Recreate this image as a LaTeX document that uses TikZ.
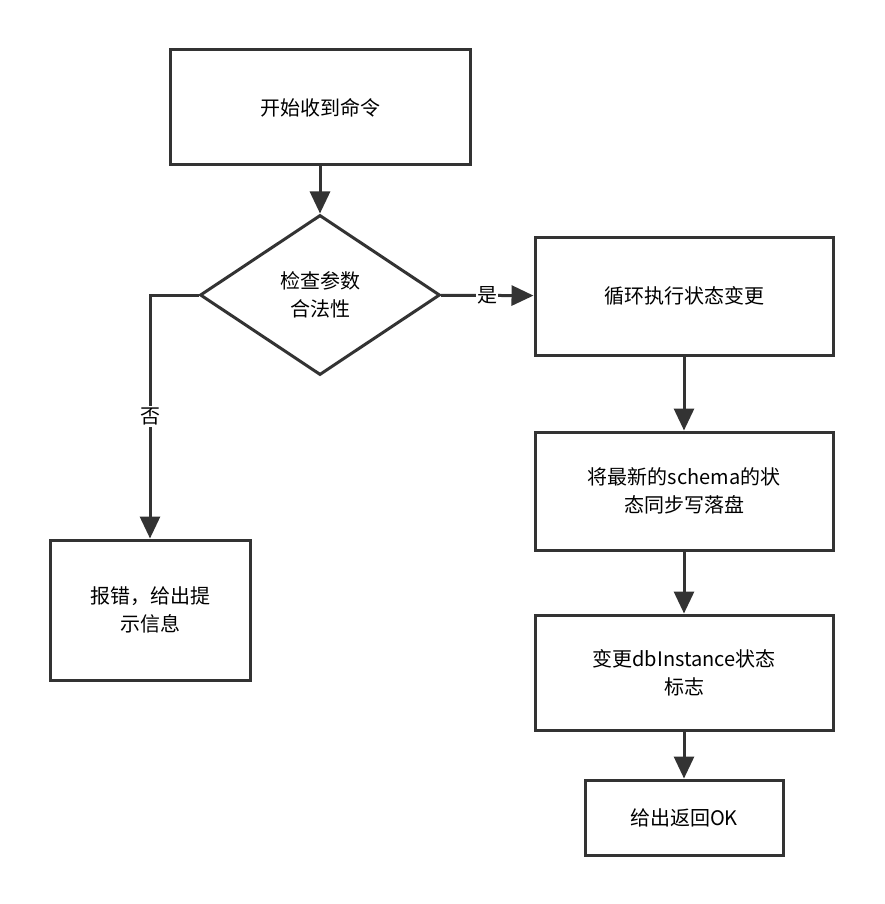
\documentclass[tikz,border=0pt]{standalone}
\usepackage{fontspec}
\setmainfont{Noto Sans CJK SC}
\usetikzlibrary{shapes.geometric,arrows.meta}
\tikzset{
  box/.style={draw=black!80,line width=3pt,minimum width=#1,align=center,font=\fontsize{20}{28}\selectfont},
  link/.style={draw=black!80,line width=3pt,-{Triangle[length=22pt,width=20pt]}},
}
\begin{document}
\begin{tikzpicture}[x=1pt,y=-1pt]
      \useasboundingbox (0,0) rectangle (884,904);
      \node[box=300pt,minimum height=115pt] (start) at (320,107.5) {开始收到命令};
      \node[box=1pt,diamond,shape aspect=1.5,minimum width=240pt,minimum height=160pt,inner sep=0pt] (check) at (320,295) {};
      \node[align=center,font=\fontsize{20}{28}\selectfont] (checktext) at (320,295) {检查参数\\合法性};
      \node[box=298pt,minimum height=118pt] (loop) at (684,296) {循环执行状态变更};
      \node[box=298pt,minimum height=118pt] (write) at (684,491) {将最新的schema的状\\态同步写落盘};
      \node[box=298pt,minimum height=115pt] (flag) at (684,672.5) {变更dbInstance状态\\标志};
      \node[box=198pt,minimum height=75pt] (ok) at (684,817.5) {给出返回OK};
      \node[box=200pt,minimum height=140pt] (error) at (150,610) {报错，给出提\\示信息};
      \coordinate (bend) at (150,295);
      \begin{scope}
        \draw[link] (start) -- (check);
        \draw[link] (check) -- node[fill=white,inner sep=1pt,font=\fontsize{20}{24}\selectfont] {是} (loop);
        \draw[link] (loop) -- (write);
        \draw[link] (write) -- (flag);
        \draw[link] (flag) -- (ok);
        \draw[link] (check.west) -- (bend) -- node[fill=white,inner sep=2pt,font=\fontsize{20}{24}\selectfont] {否} (error);
      \end{scope}
    \end{tikzpicture}
\end{document}
